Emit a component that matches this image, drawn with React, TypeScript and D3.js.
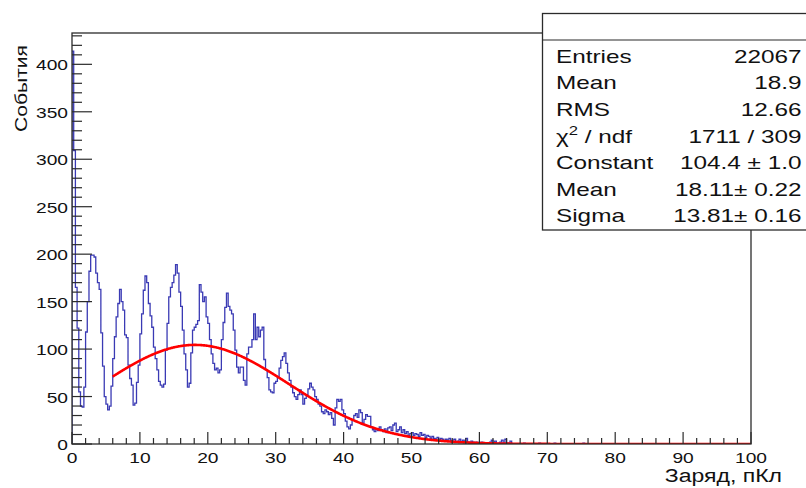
import { useEffect, useRef } from 'react';
import * as d3 from 'd3';

// histogram: 0.25 wide bins starting at 0
const binWidth = 0.25;
const binCounts = [
    // 0 - 5
    414, 309, 165, 122, 55, 40, 39, 60, 118, 150, 182, 199, 199, 197, 180, 170, 163, 117, 82, 50,
    // 5 - 10
    42, 36, 40, 61, 90, 113, 134, 148, 163, 150, 141, 115, 112, 83, 69, 62, 41, 43, 65, 83,
    // 10 - 15
    116, 137, 162, 177, 170, 148, 135, 123, 102, 90, 78, 66, 62, 60, 63, 99, 127, 155, 165, 170,
    // 15 - 20
    178, 189, 180, 160, 145, 120, 95, 78, 60, 64, 96, 120, 123, 126, 130, 168, 160, 150, 155, 134,
    // 20 - 25
    127, 110, 95, 85, 78, 80, 75, 78, 110, 128, 144, 159, 145, 141, 137, 120, 99, 81, 75, 81,
    // 25 - 30
    81, 67, 62, 95, 102, 102, 110, 137, 110, 123, 113, 120, 123, 89, 78, 70, 57, 55, 54, 64,
    // 30 - 35
    66, 71, 80, 88, 92, 96, 85, 75, 67, 60, 54, 50, 47, 52, 57, 52, 42, 48, 52, 58,
    // 35 - 40
    64, 60, 57, 50, 47, 42, 40, 34, 32, 36, 34, 31, 33, 27, 20, 38, 47, 45, 47, 36,
    // 40 - 45
    32, 24, 18, 16, 20, 25, 30, 32, 28, 36, 33, 22, 26, 31, 29, 29, 18, 15, 13, 16,
    // 45 - 50
    14, 18, 15, 13, 16, 12, 17, 18, 14, 20, 22, 13, 15, 18, 12, 15, 11, 13, 9, 11,
    // 50 - 55
    12, 9, 11, 10, 8, 12, 9, 10, 7, 9, 8, 6, 8, 6, 5, 7, 4, 6, 5, 3,
    // 55 - 60
    5, 4, 6, 3, 4, 5, 2, 3, 5, 2, 4, 3, 6, 2, 1, 3, 2, 1, 2, 0,
    // 60 - 65
    1, 2, 0, 1, 1, 0, 2, 4, 1, 3, 0, 1, 2, 4, 0, 5, 1, 0, 3, 0,
];
// a few lone entries further out
const tailBinStarts = [66.5, 68.75, 71.0, 75.25];
const tailBinCounts = [1, 1, 1, 1];

// gaussian fit parameters (from the stats box)
const fitConstant = 104.4;
const fitMean = 18.11;
const fitSigma = 13.81;
const fitFrom = 6;
const fitTo = 100;

const xTicks = [0, 10, 20, 30, 40, 50, 60, 70, 80, 90, 100];
const yTicks = [0, 50, 100, 150, 200, 250, 300, 350, 400];

const statLabels = ['Entries', 'Mean', 'RMS', 'chi2', 'Constant', 'Mean', 'Sigma'];
const statValues = ['22067', '18.9', '12.66', '1711 / 309', '104.4 \u00b1 1.0', '18.11\u00b1 0.22', '13.81\u00b1 0.16'];

const FONT = '"Liberation Sans", Arial, Helvetica, sans-serif';

const App = () => {
    const svgRef = useRef(null);
    const width = 806;
    const height = 488;
    const frame = { left: 72, right: 751, top: 33, bottom: 444 };

    useEffect(() => {
        const svg = d3.select(svgRef.current);
        svg.selectAll('*').remove();

        const x = d3.scaleLinear().domain([0, 100]).range([frame.left, frame.right]);
        const y = d3.scaleLinear().domain([0, 433]).range([frame.bottom, frame.top]);

        // full list of bins 0..100
        const nBins = Math.round(100 / binWidth);
        const counts = d3.range(nBins).map(i => (i < binCounts.length ? binCounts[i] : 0));
        tailBinStarts.forEach((s, k) => {
            counts[Math.round(s / binWidth)] = tailBinCounts[k];
        });

        svg.append('defs').append('clipPath').attr('id', 'frameClip')
            .append('rect')
            .attr('x', frame.left).attr('y', frame.top)
            .attr('width', frame.right - frame.left).attr('height', frame.bottom - frame.top);

        // histogram outline
        const steps = counts.map((c, i) => [i * binWidth, c]);
        steps.push([100, counts[nBins - 1]]);
        const stepLine = d3.line()
            .x(d => x(d[0]))
            .y(d => y(d[1]))
            .curve(d3.curveStepAfter);
        svg.append('path')
            .attr('d', stepLine([[0, 0], ...steps, [100, 0]]))
            .attr('fill', 'none')
            .attr('stroke', '#3a3ab4')
            .attr('stroke-width', 1.3)
            .attr('clip-path', 'url(#frameClip)');

        // fit
        const fitPts = d3.range(fitFrom, fitTo + 0.001, 0.1).map(v => [
            v,
            fitConstant * Math.exp(-((v - fitMean) ** 2) / (2 * fitSigma * fitSigma)),
        ]);
        svg.append('path')
            .attr('d', d3.line().x(d => x(d[0])).y(d => y(d[1]))(fitPts))
            .attr('fill', 'none')
            .attr('stroke', '#ff0000')
            .attr('stroke-width', 2.6)
            .attr('clip-path', 'url(#frameClip)');

        // frame
        svg.append('rect')
            .attr('x', frame.left).attr('y', frame.top)
            .attr('width', frame.right - frame.left).attr('height', frame.bottom - frame.top)
            .attr('fill', 'none')
            .attr('stroke', '#2b2b2b')
            .attr('stroke-width', 1.3);

        const ticks = svg.append('g').attr('stroke', '#2b2b2b').attr('stroke-width', 1.2);
        // y ticks, minor every 10
        d3.range(0, 431, 10).forEach(v => {
            const major = v % 50 === 0;
            ticks.append('line')
                .attr('x1', frame.left).attr('x2', frame.left + (major ? 20 : 10))
                .attr('y1', y(v)).attr('y2', y(v));
        });
        // x ticks, minor every 2
        d3.range(0, 101, 2).forEach(v => {
            const major = v % 10 === 0;
            ticks.append('line')
                .attr('x1', x(v)).attr('x2', x(v))
                .attr('y1', frame.bottom).attr('y2', frame.bottom - (major ? 12 : 6));
        });

        const stretched = (g, tx, ty, str, size, anchor) =>
            g.append('text')
                .attr('transform', `translate(${tx},${ty}) scale(1.28,1)`)
                .attr('text-anchor', anchor)
                .attr('font-family', FONT)
                .attr('font-size', size)
                .attr('fill', '#111')
                .text(str);

        yTicks.forEach(v => stretched(svg, 68, y(v) + 6, String(v), 15, 'end'));
        xTicks.forEach(v => stretched(svg, x(v), 462.5, String(v), 15, 'middle'));

        stretched(svg, 782, 482, 'Заряд, пКл', 18, 'end');

        svg.append('text')
            .attr('transform', 'translate(27,88.5) rotate(-90)')
            .attr('text-anchor', 'middle')
            .attr('font-family', FONT)
            .attr('font-size', 17)
            .attr('textLength', 87)
            .attr('lengthAdjust', 'spacingAndGlyphs')
            .attr('fill', '#111')
            .text('События');

        // stats box
        const box = svg.append('g');
        box.append('rect')
            .attr('x', 542.5).attr('y', 13.5)
            .attr('width', 300).attr('height', 216.5)
            .attr('fill', 'white')
            .attr('stroke', '#2b2b2b')
            .attr('stroke-width', 1.3);
        box.append('line')
            .attr('x1', 542.5).attr('x2', 806)
            .attr('y1', 40).attr('y2', 40)
            .attr('stroke', '#2b2b2b')
            .attr('stroke-width', 1.2);

        statLabels.forEach((lab, i) => {
            const by = 62.7 + i * 26.6;
            if (lab === 'chi2') {
                const t = stretched(box, 556, by, '', 19, 'start');
                t.append('tspan').text('\u03c7');
                t.append('tspan').attr('font-size', 13).attr('dy', -8).text('2');
                t.append('tspan').attr('dy', 8).text(' / ndf');
            } else {
                stretched(box, 556, by, lab, 19, 'start');
            }
            stretched(box, 801.5, by, statValues[i], 19, 'end');
        });
    }, []);

    return (
        <svg
            ref={svgRef}
            width={width}
            height={height}
            style={{ position: 'absolute', left: 0, top: 0, background: 'white' }}
        ></svg>
    );
};

export default App;
